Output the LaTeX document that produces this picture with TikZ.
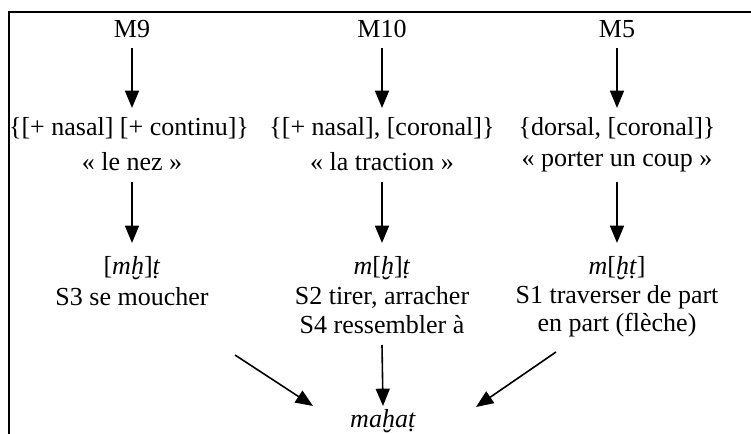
\documentclass[tikz,border=0pt]{standalone}
\usepackage{fontspec}
\setmainfont{Liberation Serif}
\usetikzlibrary{arrows.meta}
\begin{document}
\begin{tikzpicture}[x=0.75pt,y=-0.75pt,
  lbl/.style={font=\fontsize{19.5}{22}\selectfont, inner sep=0pt},
  arr/.style={line width=1.2pt, -{Triangle[length=13pt,width=10.5pt]}},
  frame/.style={line width=1.6pt}]
\useasboundingbox (0,0) rectangle (751,434);
\draw[frame] (751,12) -- (9,12) -- (9,434);
% row 1
\node[lbl] (m9)  at (132,29) {M9};
\node[lbl] (m10) at (382,29) {M10};
\node[lbl] (m5)  at (617,29) {M5};
% row 2
\node[lbl] (f9)  at (129,128) {\{[+ nasal] [+ continu]\}};
\node[lbl] (f10) at (382,128) {\{[+ nasal], [coronal]\}};
\node[lbl] (f5)  at (617,128) {\{dorsal, [coronal]\}};
% row 3
\node[lbl] (g9)  at (132,162) {« le nez »};
\node[lbl] (g10) at (382,162) {« la traction »};
\node[lbl] (g5)  at (617,162) {« porter un coup »};
% row 4
\node[lbl] (r9)  at (132,268) {[\textit{mḫ}]\textit{ṭ}};
\node[lbl] (r10) at (382,268) {\textit{m}[\textit{ḫ}]\textit{ṭ}};
\node[lbl] (r5)  at (617,268) {\textit{m}[\textit{ḫṭ}]};
% row 5
\node[lbl] (s3)  at (132,297) {S3 se moucher};
\node[lbl] (s2)  at (382,297) {S2 tirer, arracher};
\node[lbl] (s1)  at (617,297) {S1 traverser de part};
% row 6
\node[lbl] (s4)  at (382,325) {S4 ressembler à};
\node[lbl] (s1b) at (617,325) {en part (flèche)};
% result
\node[lbl] (mh) at (383,421) {\textit{maḫaṭ}};
% arrows
\draw[arr] ([shift={(0,19)}]m9.center)  -- ([shift={(3,-20)}]f9.center);
\draw[arr] ([shift={(0,19)}]m10.center) -- ([shift={(0,-20)}]f10.center);
\draw[arr] ([shift={(0,19)}]m5.center)  -- ([shift={(0,-20)}]f5.center);
\draw[arr] ([shift={(0,20)}]g9.center)  -- ([shift={(0,-25)}]r9.center);
\draw[arr] ([shift={(0,20)}]g10.center) -- ([shift={(0,-25)}]r10.center);
\draw[arr] ([shift={(0,20)}]g5.center)  -- ([shift={(0,-25)}]r5.center);
\draw[arr] ([shift={(103,58)}]s3.center) -- ([shift={(-70,-15)}]mh.center);
\draw[arr] ([shift={(0,20)}]s4.center) -- ([shift={(0,-15)}]mh.center);
\draw[arr] ([shift={(-61,27)}]s1b.center) -- ([shift={(93,-14)}]mh.center);
\end{tikzpicture}
\end{document}
